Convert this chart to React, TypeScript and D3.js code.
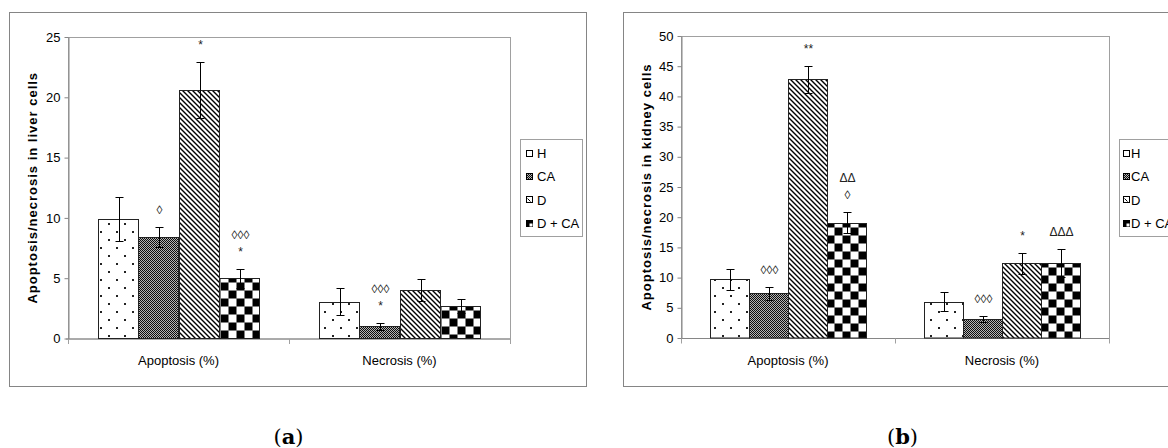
import React, { useEffect, useRef } from 'react';
import * as d3 from 'd3';

const categories = ['Apoptosis (%)', 'Necrosis (%)'];
const groups = ['H', 'CA', 'D', 'D + CA'];

// liver (a)
const liverMeans = [[9.9, 8.4, 20.6, 5.0], [3.05, 1.0, 4.0, 2.7]];
const liverErrors = [[1.8, 0.85, 2.3, 0.8], [1.1, 0.3, 0.9, 0.55]];
const liverMarks = [[[], ['◊'], ['*'], ['◊◊◊', '*']], [[], ['◊◊◊', '*'], [], []]];
const liverTicks = [0, 5, 10, 15, 20, 25];

// kidney (b)
const kidneyMeans = [[9.7, 7.4, 42.8, 19.1], [6.0, 3.15, 12.4, 12.4]];
const kidneyErrors = [[1.7, 1.1, 2.3, 1.7], [1.55, 0.55, 1.75, 2.3]];
const kidneyMarks = [[[], ['◊◊◊'], ['**'], ['ΔΔ', '◊']], [[], ['◊◊◊'], ['*'], ['ΔΔΔ']]];
const kidneyTicks = [0, 5, 10, 15, 20, 25, 30, 35, 40, 45, 50];

const FONT = '"Liberation Sans", Arial, sans-serif';

const panels = [
  {
    id: 'a', x: 9, y: 12, w: 577, h: 374,
    plot: { l: 59, t: 25, r: 501, b: 326.5 },
    means: liverMeans, errors: liverErrors, marks: liverMarks, ticks: liverTicks,
    title: 'Apoptosis/necrosis in liver cells', iconDx: 6, textDx: 17,
  },
  {
    id: 'b', x: 623, y: 12, w: 577, h: 374,
    plot: { l: 58, t: 24, r: 486, b: 326 },
    means: kidneyMeans, errors: kidneyErrors, marks: kidneyMarks, ticks: kidneyTicks,
    title: 'Apoptosis/necrosis in kidney cells', iconDx: 4, textDx: 12,
  },
];

function addPatterns(defs, id) {
  const dots = defs.append('pattern').attr('id', `dots-${id}`)
    .attr('patternUnits', 'userSpaceOnUse').attr('width', 16).attr('height', 16);
  dots.append('rect').attr('width', 16).attr('height', 16).attr('fill', '#fff');
  dots.append('rect').attr('x', 3).attr('y', 3).attr('width', 2).attr('height', 2).attr('fill', '#222');
  dots.append('rect').attr('x', 11).attr('y', 11).attr('width', 2).attr('height', 2).attr('fill', '#222');

  // fine dark mesh
  const mesh = defs.append('pattern').attr('id', `mesh-${id}`)
    .attr('patternUnits', 'userSpaceOnUse').attr('width', 2).attr('height', 2);
  mesh.append('rect').attr('width', 2).attr('height', 2).attr('fill', '#0d0d0d');
  mesh.append('rect').attr('width', 1).attr('height', 1).attr('fill', '#b4b4b4');
  mesh.append('rect').attr('x', 1).attr('y', 1).attr('width', 1).attr('height', 1).attr('fill', '#b4b4b4');

  const diag = defs.append('pattern').attr('id', `diag-${id}`)
    .attr('patternUnits', 'userSpaceOnUse').attr('width', 5).attr('height', 5);
  diag.append('rect').attr('width', 5).attr('height', 5).attr('fill', '#fff');
  diag.append('path').attr('d', 'M-1,-1L6,6M-1,4L1,6M4,-1L6,1')
    .attr('stroke', '#000').attr('stroke-width', 1.4);
}

function drawPanel(svg, defs, p) {
  addPatterns(defs, p.id);
  const g = svg.append('g').attr('transform', `translate(${p.x},${p.y})`);

  g.append('rect').attr('x', 0.5).attr('y', 0.5).attr('width', p.w).attr('height', p.h)
    .attr('fill', '#fff').attr('stroke', '#858585');

  const { l, t, r, b } = p.plot;
  const x0 = d3.scaleBand().domain(categories).range([l, r]);
  const x1 = d3.scaleBand().domain(groups).range([0, x0.bandwidth()]).paddingOuter(0.75);
  const y = d3.scaleLinear().domain([0, p.ticks[p.ticks.length - 1]]).range([b, t]);

  // plot area frame
  g.append('rect').attr('x', l + 0.5).attr('y', t + 0.5).attr('width', r - l).attr('height', b - t)
    .attr('fill', 'none').attr('stroke', '#a0a0a0');

  // y axis
  const ya = g.append('g').attr('transform', `translate(${l + 0.5},0)`)
    .call(d3.axisLeft(y).tickValues(p.ticks).tickSize(4).tickSizeOuter(0).tickPadding(4));
  ya.select('.domain').attr('stroke', '#868686');
  ya.selectAll('.tick line').attr('stroke', '#868686');
  ya.selectAll('.tick text').attr('font-family', FONT).attr('font-size', 13).attr('fill', '#000');

  // x axis
  const xa = g.append('g').attr('transform', `translate(0,${b + 0.5})`)
    .call(d3.axisBottom(x0).tickSize(0).tickPadding(17));
  xa.select('.domain').attr('stroke', '#868686').attr('d', `M${l - 2},0H${r}`);
  xa.selectAll('.tick text').attr('font-family', FONT).attr('font-size', 13).attr('fill', '#000');
  const bounds = categories.map((c) => x0(c)).concat([r]);
  xa.selectAll('.bound').data(bounds).enter().append('line')
    .attr('x1', (d) => Math.round(d) + 0.5).attr('x2', (d) => Math.round(d) + 0.5)
    .attr('y1', 0).attr('y2', 5).attr('stroke', '#a0a0a0');

  const fills = [`url(#dots-${p.id})`, `url(#mesh-${p.id})`, `url(#diag-${p.id})`, null];

  categories.forEach((cat, ci) => {
    groups.forEach((grp, gi) => {
      const v = p.means[ci][gi];
      const e = p.errors[ci][gi];
      const bx = Math.round(x0(cat) + x1(grp)) + 0.5;
      const bw = Math.round(x1.bandwidth());
      const by = Math.round(y(v)) + 0.5;
      const bh = y(0) - by;
      let fill = fills[gi];
      if (!fill) {
        const pid = `chk-${p.id}-${ci}`;
        const pat = defs.append('pattern').attr('id', pid).attr('patternUnits', 'userSpaceOnUse')
          .attr('x', bx).attr('y', by).attr('width', 16).attr('height', 16)
          .attr('patternTransform', `translate(${p.x},${p.y})`);
        pat.append('rect').attr('width', 16).attr('height', 16).attr('fill', '#fff');
        pat.append('rect').attr('width', 8).attr('height', 8).attr('fill', '#000');
        pat.append('rect').attr('x', 8).attr('y', 8).attr('width', 8).attr('height', 8).attr('fill', '#000');
        fill = `url(#${pid})`;
      }
      g.append('rect').attr('x', bx).attr('y', by).attr('width', bw).attr('height', bh)
        .attr('fill', fill).attr('stroke', '#222');

      // error bar
      const cx = Math.round(bx + bw / 2) + 0.5;
      const yTop = Math.round(y(v + e)) + 0.5;
      const yBot = Math.round(y(v - e)) + 0.5;
      g.append('line').attr('x1', cx).attr('x2', cx).attr('y1', yTop).attr('y2', yBot).attr('stroke', '#000');
      [yTop, yBot].forEach((yy) =>
        g.append('line').attr('x1', cx - 4).attr('x2', cx + 4).attr('y1', yy).attr('y2', yy).attr('stroke', '#000'));

      // significance marks, listed top to bottom
      const marks = p.marks[ci][gi];
      marks.slice().reverse().forEach((m, k) => {
        g.append('text').attr('x', cx).attr('y', yTop - 14 - k * 17)
          .attr('text-anchor', 'middle').attr('font-family', FONT).attr('font-size', 12)
          .attr('fill', '#222').text(m);
      });
    });
  });

  // legend
  const lx = r + 10;
  const lyMid = (t + b) / 2;
  const lg = g.append('g').attr('transform', `translate(${lx},${Math.round(lyMid - 48.5)})`);
  lg.append('rect').attr('x', 0.5).attr('y', 0.5).attr('width', 62).attr('height', 97)
    .attr('fill', '#fff').attr('stroke', '#a0a0a0');
  groups.forEach((grp, gi) => {
    const cy = 14 + gi * 23.4;
    const ix = p.iconDx + 0.5;
    const iy = Math.round(cy - 3.5) + 0.5;
    const icon = lg.append('g');
    if (gi === 3) {
      icon.append('rect').attr('x', ix).attr('y', iy).attr('width', 6).attr('height', 6).attr('fill', '#000').attr('stroke', '#000');
      icon.append('rect').attr('x', ix + 3).attr('y', iy + 3).attr('width', 3).attr('height', 3).attr('fill', '#fff');
    } else {
      icon.append('rect').attr('x', ix).attr('y', iy).attr('width', 6).attr('height', 6)
        .attr('fill', gi === 1 ? `url(#mesh-${p.id})` : '#fff').attr('stroke', '#000');
      if (gi === 2) {
        icon.append('path').attr('d', `M${ix + 1},${iy + 2}L${ix + 4},${iy + 5}`).attr('stroke', '#000');
      }
    }
    lg.append('text').attr('x', p.textDx).attr('y', cy + 4.7)
      .attr('font-family', FONT).attr('font-size', 13).attr('fill', '#000').text(grp);
  });

  // y title
  g.append('text')
    .attr('transform', `translate(${23},${(t + b) / 2}) rotate(-90)`)
    .attr('text-anchor', 'middle').attr('dominant-baseline', 'central')
    .attr('font-family', FONT).attr('font-size', 13).attr('font-weight', 'bold')
    .attr('letter-spacing', 1).attr('fill', '#000').text(p.title);

  // panel tag
  const tag = g.append('text').attr('x', p.w / 2 - 9).attr('y', 432)
    .attr('text-anchor', 'middle').attr('font-family', '"DejaVu Serif", serif').attr('font-size', 21).attr('fill', '#000');
  tag.append('tspan').text('(');
  tag.append('tspan').attr('font-weight', 'bold').text(p.id);
  tag.append('tspan').text(')');
}

export default function App() {
  const ref = useRef(null);
  useEffect(() => {
    const svg = d3.select(ref.current);
    svg.selectAll('*').remove();
    const defs = svg.append('defs');
    svg.append('rect').attr('width', 1168).attr('height', 448).attr('fill', '#fff');
    panels.forEach((p) => drawPanel(svg, defs, p));
  }, []);
  return (
    <svg ref={ref} width={1168} height={448}
      style={{ position: 'absolute', left: 0, top: 0, display: 'block' }} />
  );
}
